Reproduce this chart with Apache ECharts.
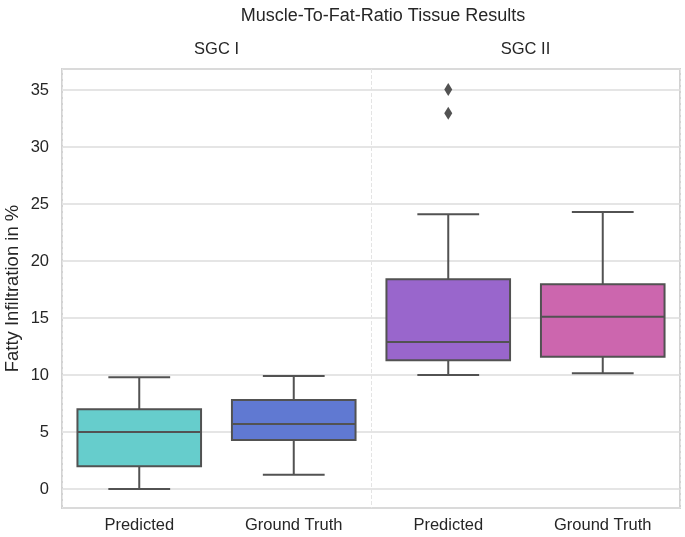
<!DOCTYPE html>
<html>
<head>
<meta charset="utf-8">
<script src="https://cdn.jsdelivr.net/npm/echarts@6/dist/echarts.min.js"></script>
<style>html,body{margin:0;padding:0;background:#fff}#c{width:685px;height:537px}</style>
</head>
<body>
<div id="c"></div>
<script>
const categories = ['Predicted', 'Ground Truth', 'Predicted', 'Ground Truth'];
const groups = ['SGC I', 'SGC II'];
// [low whisker, Q1, median, Q3, high whisker]
const predictedSGC1 = [0.0, 2.0, 5.0, 7.0, 9.8];
const groundTruthSGC1 = [1.25, 4.3, 5.7, 7.8, 9.9];
const predictedSGC2 = [10.0, 11.3, 12.9, 18.4, 24.1];
const groundTruthSGC2 = [10.15, 11.6, 15.1, 17.95, 24.3];
const outliers = [[2, 35.05], [2, 32.95]];
const boxColors = ['#66CDCC', '#6079D2', '#9966CC', '#CC66AE'];

const boxes = [predictedSGC1, groundTruthSGC1, predictedSGC2, groundTruthSGC2];
const boxData = boxes.map((b, i) => [i].concat(b));
const FONT = "'Liberation Sans', Arial, sans-serif";
const TXT = '#262626';
const EDGE = '#525252';

function renderItem(params, api) {
  const x = api.value(0);
  const low = api.coord([x, api.value(1)]);
  const q1 = api.coord([x, api.value(2)]);
  const med = api.coord([x, api.value(3)]);
  const q3 = api.coord([x, api.value(4)]);
  const high = api.coord([x, api.value(5)]);
  const band = api.size([1, 0])[0];
  const bw = band * 0.8, cw = band * 0.4;
  const cx = low[0];
  const ls = { stroke: EDGE, lineWidth: 2 };
  return {
    type: 'group',
    children: [
      { type: 'line', shape: { x1: cx, y1: q1[1], x2: cx, y2: low[1] }, style: ls },
      { type: 'line', shape: { x1: cx, y1: q3[1], x2: cx, y2: high[1] }, style: ls },
      { type: 'line', shape: { x1: cx - cw / 2, y1: low[1], x2: cx + cw / 2, y2: low[1] }, style: ls },
      { type: 'line', shape: { x1: cx - cw / 2, y1: high[1], x2: cx + cw / 2, y2: high[1] }, style: ls },
      { type: 'rect', shape: { x: cx - bw / 2, y: q3[1], width: bw, height: q1[1] - q3[1] },
        style: { fill: boxColors[params.dataIndex], stroke: EDGE, lineWidth: 2 } },
      { type: 'line', shape: { x1: cx - bw / 2, y1: med[1], x2: cx + bw / 2, y2: med[1] }, style: ls }
    ]
  };
}

const chart = echarts.init(document.getElementById('c'), null, { renderer: 'canvas' });
chart.setOption({
  animation: false,
  backgroundColor: '#fff',
  title: {
    text: 'Muscle-To-Fat-Ratio Tissue Results',
    left: 378, top: 2, textAlign: 'center',
    textStyle: { fontFamily: FONT, fontSize: 18, fontWeight: 'normal', color: TXT }
  },
  grid: { left: 62, right: 5, top: 69, bottom: 29, show: true, outerBoundsMode: 'none', containLabel: false,
    borderColor: '#d2d2d2', borderWidth: 2, backgroundColor: '#fff' },
  xAxis: [
    {
      type: 'category', data: categories, position: 'bottom',
      axisLine: { show: false }, axisTick: { show: false },
      axisLabel: { fontFamily: FONT, fontSize: 16.5, color: TXT, margin: 9 },
      splitLine: { show: false }
    },
    {
      type: 'category', data: groups, position: 'top',
      axisLine: { show: false }, axisTick: { show: false },
      axisLabel: { fontFamily: FONT, fontSize: 16.5, color: TXT, margin: 11 },
      splitLine: { show: true, lineStyle: { color: '#e4e4e4', width: 1, type: 'dashed' } }
    }
  ],
  yAxis: {
    type: 'value', min: -1.67, max: 36.84, splitNumber: 8,
    name: 'Fatty Infiltration in %', nameLocation: 'middle', nameGap: 40, nameMoveOverlap: false,
    nameTextStyle: { fontFamily: FONT, fontSize: 18.5, color: TXT },
    axisLine: { show: false }, axisTick: { show: false },
    axisLabel: { fontFamily: FONT, fontSize: 16.5, color: TXT, margin: 13,
      formatter: v => (Math.abs(v % 5) < 1e-6 ? String(v) : '') },
    splitLine: { show: true, lineStyle: { color: '#dcdcdc', width: 1.5 } }
  },
  series: [
    { type: 'custom', xAxisIndex: 0, renderItem: renderItem, data: boxData, encode: { x: 0, y: [1, 2, 3, 4, 5] }, z: 3 },
    { type: 'scatter', xAxisIndex: 0, data: outliers, symbol: 'diamond', symbolSize: [8, 13], itemStyle: { color: EDGE, opacity: 1 }, z: 4 }
  ]
});
</script>
</body>
</html>
